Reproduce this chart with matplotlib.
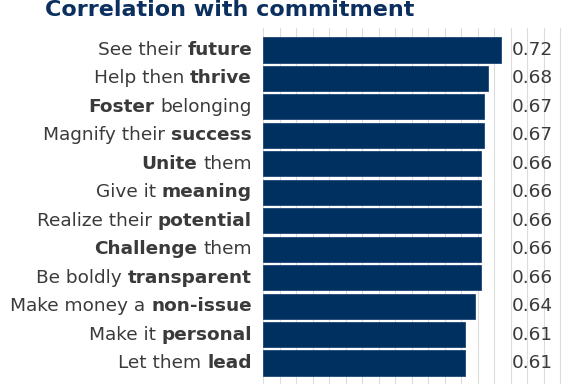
import numpy as np
import matplotlib
matplotlib.use("Agg")
import matplotlib.pyplot as plt

categories = ["See their future", "Help then thrive", "Foster belonging",
              "Magnify their success", "Unite them", "Give it meaning",
              "Realize their potential", "Challenge them", "Be boldly transparent",
              "Make money a non-issue", "Make it personal", "Let them lead"]
bold_words = ["future", "thrive", "Foster", "success", "Unite", "meaning",
              "potential", "Challenge", "transparent", "non-issue", "personal", "lead"]
values = [0.72, 0.68, 0.67, 0.67, 0.66, 0.66, 0.66, 0.66, 0.66, 0.64, 0.61, 0.61]
title = "Correlation with commitment"

BAR = "#00305f"
TXT = "#3a3a3a"
FS = 13.3

fig = plt.figure(figsize=(5.74, 3.84), dpi=100)
ax = fig.add_axes([263/574, 0, 1 - 263/574, 1 - 28/384])

y = np.arange(len(categories))
ax.barh(y, values, height=0.88, color=BAR, edgecolor="#1d4677", linewidth=0.6, zorder=2)
ax.set_xlim(0, (574 - 263) / 330.5)
ax.set_ylim(11 + 21/28.45, -22/28.45)
ax.set_xticks(np.arange(0, 0.95, 0.05))
ax.set_yticks([])
ax.tick_params(length=0, labelbottom=False)
ax.grid(axis="x", color="#dcdcdc", linewidth=0.8, zorder=0)
ax.set_axisbelow(True)
for s in ax.spines.values():
    s.set_visible(False)

ytr = ax.get_yaxis_transform()
for i, (cat, bw, v) in enumerate(zip(categories, bold_words, values)):
    idx = cat.index(bw)
    pre = cat[:idx].strip()
    post = cat[idx + len(bw):].strip()
    segs = []
    if pre:
        segs.append((pre, "normal"))
    segs.append((bw, "bold"))
    if post:
        segs.append((post, "normal"))
    prev = None
    for text, w in reversed(segs):
        if prev is None:
            prev = ax.annotate(text, xy=(0, i), xycoords=ytr, xytext=(-8, 0),
                               textcoords="offset points", ha="right", va="center",
                               fontsize=FS, fontweight=w, color=TXT, annotation_clip=False)
        else:
            prev = ax.annotate(text, xy=(0, 0.5), xycoords=prev, xytext=(-4.2, 0),
                               textcoords="offset points", ha="right", va="center",
                               fontsize=FS, fontweight=w, color=TXT, annotation_clip=False)
    ax.text(0.753, i, f"{v:.2f}", ha="left", va="center", fontsize=FS, color=TXT)

fig.text(45/574, 1 - 15.5/384, title, ha="left", va="baseline",
         fontsize=16, fontweight="heavy", color="#0b2f5e")

fig.savefig("out.png", dpi=100)
